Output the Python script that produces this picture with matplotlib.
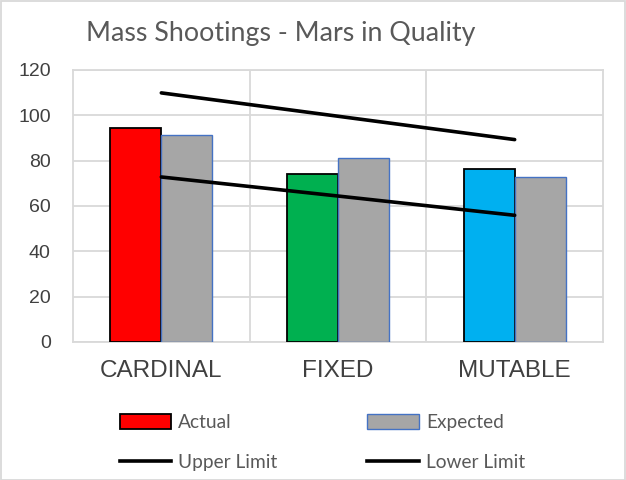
import matplotlib.pyplot as plt
from matplotlib.patches import Patch, Rectangle
from matplotlib.lines import Line2D
import numpy as np

categories = ["CARDINAL", "FIXED", "MUTABLE"]
actual = [94.3, 74.3, 76.2]
expected = [91.2, 81.3, 72.8]
upper_limit = [109.9, 99.6, 89.3]
lower_limit = [72.8, 64.4, 55.9]
actual_colors = ["#FF0000", "#00B050", "#00B0F0"]

fig = plt.figure(figsize=(6.26, 4.8), dpi=100)
ax = fig.add_axes([73 / 626, 1 - 342 / 480, 530 / 626, 272 / 480])

x = np.arange(len(categories))
w = 0.288
ax.bar(x - w / 2, actual, width=w, color=actual_colors, edgecolor="black", linewidth=1.3, zorder=3)
ax.bar(x + w / 2, expected, width=w, color="#A6A6A6", edgecolor="#4472C4", linewidth=1.0, zorder=3)
ax.plot(x, upper_limit, color="black", linewidth=2.6, solid_capstyle="round", zorder=4)
ax.plot(x, lower_limit, color="black", linewidth=2.6, solid_capstyle="round", zorder=4)

ax.set_xlim(-0.5, 2.5)
ax.set_ylim(0, 120)
ax.set_yticks(range(0, 121, 20))
ax.set_xticks(x)
ax.set_xticklabels(categories, fontsize=17.5, color="#404040", family="Liberation Sans")
ax.set_xticks([0.5, 1.5], minor=True)
for lab in ax.get_yticklabels():
    lab.set_fontsize(14)
    lab.set_color("#404040")
    lab.set_family("Liberation Sans")
ax.tick_params(axis="both", which="both", length=0)
ax.tick_params(axis="y", pad=16)
ax.tick_params(axis="x", pad=13)
ax.grid(True, axis="y", color="#D9D9D9", linewidth=1.3, zorder=0)
ax.grid(True, axis="x", which="minor", color="#D9D9D9", linewidth=1.3, zorder=0)
for s in ax.spines.values():
    s.set_color("#D9D9D9")
    s.set_linewidth(1.3)

fig.text(86 / 626, 1 - 34 / 480, "Mass Shootings - Mars in Quality", fontsize=19.3,
         color="#595959", family="Lato", va="center", ha="left")

handles = [
    Patch(facecolor="#FF0000", edgecolor="black", linewidth=1.3),
    Line2D([], [], color="black", linewidth=2.6),
    Patch(facecolor="#A6A6A6", edgecolor="#4472C4", linewidth=1.0),
    Line2D([], [], color="black", linewidth=2.6),
]
labels = ["Actual", "Upper Limit", "Expected", "Lower Limit"]
fig.legend(handles, labels, ncol=2, frameon=False, loc="upper left",
           bbox_to_anchor=(110 / 626, 1 - 404 / 480), borderpad=0,
           prop={"family": "Lato", "size": 13.8}, labelcolor="#595959",
           handlelength=2.7, handleheight=0.85, handletextpad=0.35,
           labelspacing=1.2, columnspacing=4.7)

fig.add_artist(Rectangle((0.001, 0.001), 0.997, 0.997, transform=fig.transFigure,
                         fill=False, edgecolor="#D9D9D9", linewidth=1.3))

fig.savefig("out.png", dpi=100)
